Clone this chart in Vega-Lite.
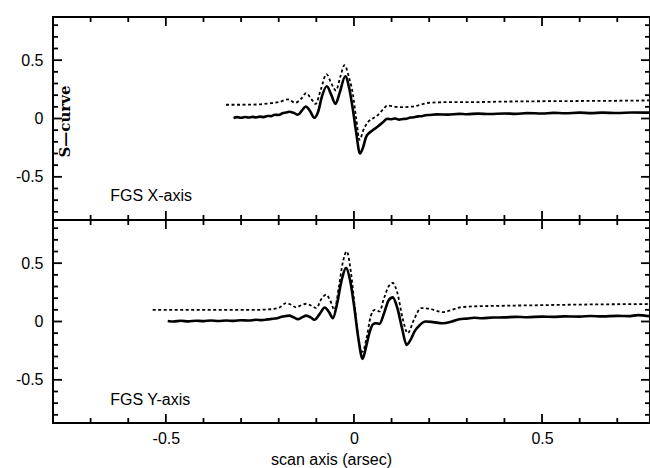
{
  "$schema": "https://vega.github.io/schema/vega-lite/v6.json",
  "background": "white",
  "padding": {"left": 14, "top": 15, "right": 0, "bottom": 0},
  "spacing": 0,
  "bounds": "flush",
  "config": {
    "view": {"stroke": "black", "strokeWidth": 2},
    "axis": {
      "domain": false, "ticks": false,
      "labelFont": "Liberation Sans", "labelFontSize": 16, "labelColor": "black",
      "titleFont": "Liberation Sans", "titleFontSize": 16, "titleFontWeight": "normal", "titleColor": "black",
      "grid": false, "labelOverlap": false, "labelFlush": false
    },
    "rule": {"color": "black", "strokeWidth": 1.8, "opacity": 1}
  },
  "datasets": {
    "ticksX": [
      {"v": -0.7, "m": 0}, {"v": -0.6, "m": 0}, {"v": -0.5, "m": 1}, {"v": -0.4, "m": 0}, {"v": -0.3, "m": 0},
      {"v": -0.2, "m": 0}, {"v": -0.1, "m": 0}, {"v": 0, "m": 1}, {"v": 0.1, "m": 0}, {"v": 0.2, "m": 0},
      {"v": 0.3, "m": 0}, {"v": 0.4, "m": 0}, {"v": 0.5, "m": 1}, {"v": 0.6, "m": 0}, {"v": 0.7, "m": 0}
    ],
    "ticksY": [
      {"v": -0.8, "m": 0}, {"v": -0.7, "m": 0}, {"v": -0.6, "m": 0}, {"v": -0.5, "m": 1}, {"v": -0.4, "m": 0}, {"v": -0.3, "m": 0},
      {"v": -0.2, "m": 0}, {"v": -0.1, "m": 0}, {"v": 0, "m": 1}, {"v": 0.1, "m": 0}, {"v": 0.2, "m": 0},
      {"v": 0.3, "m": 0}, {"v": 0.4, "m": 0}, {"v": 0.5, "m": 1}, {"v": 0.6, "m": 0}, {"v": 0.7, "m": 0}, {"v": 0.8, "m": 0}
    ],
    "xa": [
      {"s": "a", "x": -0.32, "y": 0.005}, {"s": "a", "x": -0.31, "y": 0.012}, {"s": "a", "x": -0.30, "y": 0.006}, {"s": "a", "x": -0.29, "y": 0.013},
      {"s": "a", "x": -0.28, "y": 0.008}, {"s": "a", "x": -0.27, "y": 0.014}, {"s": "a", "x": -0.26, "y": 0.01}, {"s": "a", "x": -0.25, "y": 0.016},
      {"s": "a", "x": -0.24, "y": 0.012}, {"s": "a", "x": -0.23, "y": 0.022}, {"s": "a", "x": -0.22, "y": 0.02}, {"s": "a", "x": -0.21, "y": 0.032},
      {"s": "a", "x": -0.20, "y": 0.03}, {"s": "a", "x": -0.19, "y": 0.045}, {"s": "a", "x": -0.18, "y": 0.052}, {"s": "a", "x": -0.172, "y": 0.058},
      {"s": "a", "x": -0.16, "y": 0.048}, {"s": "a", "x": -0.149, "y": 0.032}, {"s": "a", "x": -0.138, "y": 0.07}, {"s": "a", "x": -0.128, "y": 0.103},
      {"s": "a", "x": -0.118, "y": 0.07}, {"s": "a", "x": -0.105, "y": 0.006}, {"s": "a", "x": -0.095, "y": 0.06}, {"s": "a", "x": -0.085, "y": 0.19},
      {"s": "a", "x": -0.072, "y": 0.276}, {"s": "a", "x": -0.06, "y": 0.2}, {"s": "a", "x": -0.049, "y": 0.125}, {"s": "a", "x": -0.038, "y": 0.22},
      {"s": "a", "x": -0.023, "y": 0.362}, {"s": "a", "x": -0.012, "y": 0.25}, {"s": "a", "x": -0.003, "y": 0.08}, {"s": "a", "x": 0.006, "y": -0.12},
      {"s": "a", "x": 0.016, "y": -0.3}, {"s": "a", "x": 0.024, "y": -0.25}, {"s": "a", "x": 0.032, "y": -0.16}, {"s": "a", "x": 0.042, "y": -0.12},
      {"s": "a", "x": 0.05, "y": -0.1}, {"s": "a", "x": 0.065, "y": -0.065}, {"s": "a", "x": 0.078, "y": -0.03}, {"s": "a", "x": 0.088, "y": -0.003},
      {"s": "a", "x": 0.1, "y": -0.006}, {"s": "a", "x": 0.11, "y": 0.0}, {"s": "a", "x": 0.12, "y": -0.01}, {"s": "a", "x": 0.13, "y": -0.004},
      {"s": "a", "x": 0.14, "y": -0.002}, {"s": "a", "x": 0.15, "y": 0.008}, {"s": "a", "x": 0.16, "y": 0.01}, {"s": "a", "x": 0.17, "y": 0.018},
      {"s": "a", "x": 0.18, "y": 0.02}, {"s": "a", "x": 0.19, "y": 0.028}, {"s": "a", "x": 0.2, "y": 0.03}, {"s": "a", "x": 0.22, "y": 0.035},
      {"s": "a", "x": 0.25, "y": 0.033}, {"s": "a", "x": 0.28, "y": 0.04}, {"s": "a", "x": 0.3, "y": 0.037}, {"s": "a", "x": 0.33, "y": 0.042},
      {"s": "a", "x": 0.36, "y": 0.038}, {"s": "a", "x": 0.4, "y": 0.043}, {"s": "a", "x": 0.43, "y": 0.04}, {"s": "a", "x": 0.46, "y": 0.046},
      {"s": "a", "x": 0.5, "y": 0.043}, {"s": "a", "x": 0.53, "y": 0.048}, {"s": "a", "x": 0.56, "y": 0.045}, {"s": "a", "x": 0.6, "y": 0.05},
      {"s": "a", "x": 0.63, "y": 0.046}, {"s": "a", "x": 0.66, "y": 0.05}, {"s": "a", "x": 0.7, "y": 0.047}, {"s": "a", "x": 0.74, "y": 0.052},
      {"s": "a", "x": 0.787, "y": 0.05},
      {"s": "b", "x": -0.34, "y": 0.118}, {"s": "b", "x": -0.30, "y": 0.118}, {"s": "b", "x": -0.26, "y": 0.12}, {"s": "b", "x": -0.225, "y": 0.13},
      {"s": "b", "x": -0.20, "y": 0.14}, {"s": "b", "x": -0.176, "y": 0.164}, {"s": "b", "x": -0.156, "y": 0.135}, {"s": "b", "x": -0.14, "y": 0.17},
      {"s": "b", "x": -0.127, "y": 0.218}, {"s": "b", "x": -0.114, "y": 0.17}, {"s": "b", "x": -0.102, "y": 0.125}, {"s": "b", "x": -0.088, "y": 0.25},
      {"s": "b", "x": -0.073, "y": 0.38}, {"s": "b", "x": -0.06, "y": 0.3}, {"s": "b", "x": -0.048, "y": 0.24}, {"s": "b", "x": -0.036, "y": 0.36},
      {"s": "b", "x": -0.025, "y": 0.457}, {"s": "b", "x": -0.013, "y": 0.35}, {"s": "b", "x": -0.003, "y": 0.213}, {"s": "b", "x": 0.006, "y": 0.0},
      {"s": "b", "x": 0.015, "y": -0.184}, {"s": "b", "x": 0.025, "y": -0.1}, {"s": "b", "x": 0.037, "y": -0.032}, {"s": "b", "x": 0.05, "y": 0.0},
      {"s": "b", "x": 0.06, "y": 0.02}, {"s": "b", "x": 0.075, "y": 0.07}, {"s": "b", "x": 0.09, "y": 0.112}, {"s": "b", "x": 0.11, "y": 0.1},
      {"s": "b", "x": 0.13, "y": 0.097}, {"s": "b", "x": 0.16, "y": 0.105}, {"s": "b", "x": 0.2, "y": 0.135}, {"s": "b", "x": 0.25, "y": 0.14},
      {"s": "b", "x": 0.3, "y": 0.14}, {"s": "b", "x": 0.4, "y": 0.145}, {"s": "b", "x": 0.5, "y": 0.148}, {"s": "b", "x": 0.6, "y": 0.15},
      {"s": "b", "x": 0.7, "y": 0.152}, {"s": "b", "x": 0.787, "y": 0.155}
    ],
    "ya": [
      {"s": "a", "x": -0.495, "y": 0.005}, {"s": "a", "x": -0.48, "y": 0.0}, {"s": "a", "x": -0.46, "y": 0.006}, {"s": "a", "x": -0.44, "y": 0.001},
      {"s": "a", "x": -0.42, "y": 0.007}, {"s": "a", "x": -0.40, "y": 0.003}, {"s": "a", "x": -0.38, "y": 0.009}, {"s": "a", "x": -0.36, "y": 0.004},
      {"s": "a", "x": -0.34, "y": 0.008}, {"s": "a", "x": -0.32, "y": 0.005}, {"s": "a", "x": -0.30, "y": 0.011}, {"s": "a", "x": -0.28, "y": 0.008},
      {"s": "a", "x": -0.26, "y": 0.015}, {"s": "a", "x": -0.245, "y": 0.012}, {"s": "a", "x": -0.23, "y": 0.018}, {"s": "a", "x": -0.21, "y": 0.025},
      {"s": "a", "x": -0.198, "y": 0.035}, {"s": "a", "x": -0.185, "y": 0.045}, {"s": "a", "x": -0.172, "y": 0.05}, {"s": "a", "x": -0.16, "y": 0.035},
      {"s": "a", "x": -0.149, "y": 0.02}, {"s": "a", "x": -0.138, "y": 0.035}, {"s": "a", "x": -0.127, "y": 0.05}, {"s": "a", "x": -0.115, "y": 0.035},
      {"s": "a", "x": -0.105, "y": 0.015}, {"s": "a", "x": -0.09, "y": 0.07}, {"s": "a", "x": -0.078, "y": 0.12}, {"s": "a", "x": -0.066, "y": 0.08},
      {"s": "a", "x": -0.056, "y": 0.028}, {"s": "a", "x": -0.045, "y": 0.15}, {"s": "a", "x": -0.033, "y": 0.35}, {"s": "a", "x": -0.021, "y": 0.46},
      {"s": "a", "x": -0.01, "y": 0.35}, {"s": "a", "x": 0.001, "y": 0.12}, {"s": "a", "x": 0.012, "y": -0.15}, {"s": "a", "x": 0.023, "y": -0.32},
      {"s": "a", "x": 0.032, "y": -0.22}, {"s": "a", "x": 0.041, "y": -0.1}, {"s": "a", "x": 0.05, "y": -0.025}, {"s": "a", "x": 0.058, "y": -0.015},
      {"s": "a", "x": 0.068, "y": -0.02}, {"s": "a", "x": 0.08, "y": 0.07}, {"s": "a", "x": 0.092, "y": 0.18}, {"s": "a", "x": 0.103, "y": 0.207},
      {"s": "a", "x": 0.115, "y": 0.12}, {"s": "a", "x": 0.128, "y": -0.06}, {"s": "a", "x": 0.14, "y": -0.2}, {"s": "a", "x": 0.15, "y": -0.16},
      {"s": "a", "x": 0.162, "y": -0.08}, {"s": "a", "x": 0.174, "y": -0.034}, {"s": "a", "x": 0.19, "y": 0.0}, {"s": "a", "x": 0.21, "y": -0.005},
      {"s": "a", "x": 0.236, "y": -0.015}, {"s": "a", "x": 0.26, "y": 0.0}, {"s": "a", "x": 0.28, "y": 0.02}, {"s": "a", "x": 0.30, "y": 0.025},
      {"s": "a", "x": 0.32, "y": 0.032}, {"s": "a", "x": 0.34, "y": 0.028}, {"s": "a", "x": 0.37, "y": 0.034}, {"s": "a", "x": 0.4, "y": 0.035},
      {"s": "a", "x": 0.43, "y": 0.04}, {"s": "a", "x": 0.46, "y": 0.037}, {"s": "a", "x": 0.5, "y": 0.042}, {"s": "a", "x": 0.53, "y": 0.04},
      {"s": "a", "x": 0.56, "y": 0.044}, {"s": "a", "x": 0.6, "y": 0.042}, {"s": "a", "x": 0.63, "y": 0.047}, {"s": "a", "x": 0.66, "y": 0.044},
      {"s": "a", "x": 0.7, "y": 0.048}, {"s": "a", "x": 0.73, "y": 0.046}, {"s": "a", "x": 0.755, "y": 0.055}, {"s": "a", "x": 0.787, "y": 0.045},
      {"s": "b", "x": -0.535, "y": 0.1}, {"s": "b", "x": -0.45, "y": 0.1}, {"s": "b", "x": -0.35, "y": 0.1}, {"s": "b", "x": -0.26, "y": 0.1},
      {"s": "b", "x": -0.22, "y": 0.105}, {"s": "b", "x": -0.198, "y": 0.12}, {"s": "b", "x": -0.18, "y": 0.158}, {"s": "b", "x": -0.165, "y": 0.14},
      {"s": "b", "x": -0.154, "y": 0.121}, {"s": "b", "x": -0.14, "y": 0.14}, {"s": "b", "x": -0.127, "y": 0.152}, {"s": "b", "x": -0.113, "y": 0.135},
      {"s": "b", "x": -0.1, "y": 0.115}, {"s": "b", "x": -0.087, "y": 0.19}, {"s": "b", "x": -0.074, "y": 0.23}, {"s": "b", "x": -0.063, "y": 0.18},
      {"s": "b", "x": -0.052, "y": 0.1}, {"s": "b", "x": -0.04, "y": 0.3}, {"s": "b", "x": -0.03, "y": 0.5}, {"s": "b", "x": -0.019, "y": 0.6},
      {"s": "b", "x": -0.008, "y": 0.42}, {"s": "b", "x": 0.003, "y": 0.1}, {"s": "b", "x": 0.013, "y": -0.17}, {"s": "b", "x": 0.023, "y": -0.26},
      {"s": "b", "x": 0.033, "y": -0.15}, {"s": "b", "x": 0.045, "y": 0.05}, {"s": "b", "x": 0.055, "y": 0.1}, {"s": "b", "x": 0.068, "y": 0.086},
      {"s": "b", "x": 0.08, "y": 0.2}, {"s": "b", "x": 0.092, "y": 0.3}, {"s": "b", "x": 0.103, "y": 0.33}, {"s": "b", "x": 0.115, "y": 0.25},
      {"s": "b", "x": 0.13, "y": 0.02}, {"s": "b", "x": 0.143, "y": -0.1}, {"s": "b", "x": 0.16, "y": 0.02}, {"s": "b", "x": 0.179, "y": 0.115},
      {"s": "b", "x": 0.2, "y": 0.11}, {"s": "b", "x": 0.236, "y": 0.08}, {"s": "b", "x": 0.26, "y": 0.1}, {"s": "b", "x": 0.28, "y": 0.12},
      {"s": "b", "x": 0.32, "y": 0.13}, {"s": "b", "x": 0.4, "y": 0.135}, {"s": "b", "x": 0.5, "y": 0.14}, {"s": "b", "x": 0.6, "y": 0.145},
      {"s": "b", "x": 0.7, "y": 0.148}, {"s": "b", "x": 0.787, "y": 0.15}
    ],
    "labels": [
      {"p": "X", "x": -0.648, "y": -0.66, "t": "FGS X-axis"},
      {"p": "Y", "x": -0.648, "y": -0.67, "t": "FGS Y-axis"}
    ]
  },
  "vconcat": [
    {
      "width": 597, "height": 203,
      "resolve": {"axis": {"x": "independent", "y": "independent"}},
      "layer": [
        {
          "data": {"name": "xa"},
          "transform": [{"filter": "datum.s == 'a'"}],
          "mark": {"type": "line", "color": "black", "strokeWidth": 2.6, "interpolate": "monotone", "clip": true},
          "encoding": {
            "x": {"field": "x", "type": "quantitative", "scale": {"domain": [-0.8, 0.787], "nice": false, "zero": false}, "axis": null},
            "y": {"field": "y", "type": "quantitative", "scale": {"domain": [-0.87, 0.87], "nice": false, "zero": false},
              "axis": {"orient": "left", "values": [-0.5, 0, 0.5],
                "labelExpr": "(datum.value < 0 ? '-' : '') + format(abs(datum.value), '.1~f')",
                "labelPadding": 10,
                "title": "S—curve", "titleFont": "DejaVu Serif", "titleFontWeight": "bold", "titleFontSize": 15,
                "titleAngle": -90, "titleX": 16, "titleY": 104, "titleBaseline": "alphabetic", "titleAlign": "center"}}
          }
        },
        {
          "data": {"name": "xa"},
          "transform": [{"filter": "datum.s == 'b'"}],
          "mark": {"type": "line", "color": "black", "strokeWidth": 1.8, "strokeDash": [3, 2.5], "interpolate": "monotone", "clip": true},
          "encoding": {
            "x": {"field": "x", "type": "quantitative", "axis": null},
            "y": {"field": "y", "type": "quantitative", "axis": null}
          }
        },
        {
          "data": {"name": "labels"},
          "transform": [{"filter": "datum.p == 'X'"}],
          "mark": {"type": "text", "align": "left", "baseline": "middle", "font": "Liberation Sans", "fontSize": 16, "color": "black"},
          "encoding": {
            "x": {"field": "x", "type": "quantitative", "axis": null},
            "y": {"field": "y", "type": "quantitative", "axis": null},
            "text": {"field": "t"}
          }
        },
        {"data": {"name": "ticksX"}, "transform": [{"filter": "datum.m == 1"}], "mark": {"type": "rule"},
          "encoding": {"x": {"field": "v", "type": "quantitative", "axis": null}, "y": {"datum": -0.87, "type": "quantitative", "axis": null}, "y2": {"datum": -0.793}}},
        {"data": {"name": "ticksX"}, "transform": [{"filter": "datum.m == 0"}], "mark": {"type": "rule"},
          "encoding": {"x": {"field": "v", "type": "quantitative", "axis": null}, "y": {"datum": -0.87, "type": "quantitative", "axis": null}, "y2": {"datum": -0.827}}},
        {"data": {"name": "ticksX"}, "transform": [{"filter": "datum.m == 1"}], "mark": {"type": "rule"},
          "encoding": {"x": {"field": "v", "type": "quantitative", "axis": null}, "y": {"datum": 0.87, "type": "quantitative", "axis": null}, "y2": {"datum": 0.793}}},
        {"data": {"name": "ticksX"}, "transform": [{"filter": "datum.m == 0"}], "mark": {"type": "rule"},
          "encoding": {"x": {"field": "v", "type": "quantitative", "axis": null}, "y": {"datum": 0.87, "type": "quantitative", "axis": null}, "y2": {"datum": 0.827}}},
        {"data": {"name": "ticksY"}, "transform": [{"filter": "datum.m == 1"}], "mark": {"type": "rule"},
          "encoding": {"y": {"field": "v", "type": "quantitative", "axis": null}, "x": {"datum": -0.8, "type": "quantitative", "axis": null}, "x2": {"datum": -0.776}}},
        {"data": {"name": "ticksY"}, "transform": [{"filter": "datum.m == 0"}], "mark": {"type": "rule"},
          "encoding": {"y": {"field": "v", "type": "quantitative", "axis": null}, "x": {"datum": -0.8, "type": "quantitative", "axis": null}, "x2": {"datum": -0.7867}}},
        {"data": {"name": "ticksY"}, "transform": [{"filter": "datum.m == 1"}], "mark": {"type": "rule"},
          "encoding": {"y": {"field": "v", "type": "quantitative", "axis": null}, "x": {"datum": 0.787, "type": "quantitative", "axis": null}, "x2": {"datum": 0.763}}},
        {"data": {"name": "ticksY"}, "transform": [{"filter": "datum.m == 0"}], "mark": {"type": "rule"},
          "encoding": {"y": {"field": "v", "type": "quantitative", "axis": null}, "x": {"datum": 0.787, "type": "quantitative", "axis": null}, "x2": {"datum": 0.7737}}}
      ]
    },
    {
      "width": 597, "height": 203,
      "resolve": {"axis": {"x": "independent", "y": "independent"}},
      "layer": [
        {
          "data": {"name": "ya"},
          "transform": [{"filter": "datum.s == 'a'"}],
          "mark": {"type": "line", "color": "black", "strokeWidth": 2.6, "interpolate": "monotone", "clip": true},
          "encoding": {
            "x": {"field": "x", "type": "quantitative", "scale": {"domain": [-0.8, 0.787], "nice": false, "zero": false},
              "axis": {"orient": "bottom", "title": "scan axis (arsec)", "titleX": 278, "titlePadding": 5, "values": [-0.5, 0, 0.5],
                "labelExpr": "(datum.value < 0 ? '-' : '') + format(abs(datum.value), '.1~f')",
                "labelPadding": 7}},
            "y": {"field": "y", "type": "quantitative", "scale": {"domain": [-0.87, 0.87], "nice": false, "zero": false},
              "axis": {"orient": "left", "title": null, "values": [-0.5, 0, 0.5],
                "labelExpr": "(datum.value < 0 ? '-' : '') + format(abs(datum.value), '.1~f')",
                "labelPadding": 10}}
          }
        },
        {
          "data": {"name": "ya"},
          "transform": [{"filter": "datum.s == 'b'"}],
          "mark": {"type": "line", "color": "black", "strokeWidth": 1.8, "strokeDash": [3, 2.5], "interpolate": "monotone", "clip": true},
          "encoding": {
            "x": {"field": "x", "type": "quantitative", "axis": null},
            "y": {"field": "y", "type": "quantitative", "axis": null}
          }
        },
        {
          "data": {"name": "labels"},
          "transform": [{"filter": "datum.p == 'Y'"}],
          "mark": {"type": "text", "align": "left", "baseline": "middle", "font": "Liberation Sans", "fontSize": 16, "color": "black"},
          "encoding": {
            "x": {"field": "x", "type": "quantitative", "axis": null},
            "y": {"field": "y", "type": "quantitative", "axis": null},
            "text": {"field": "t"}
          }
        },
        {"data": {"name": "ticksX"}, "transform": [{"filter": "datum.m == 1"}], "mark": {"type": "rule"},
          "encoding": {"x": {"field": "v", "type": "quantitative", "axis": null}, "y": {"datum": -0.87, "type": "quantitative", "axis": null}, "y2": {"datum": -0.793}}},
        {"data": {"name": "ticksX"}, "transform": [{"filter": "datum.m == 0"}], "mark": {"type": "rule"},
          "encoding": {"x": {"field": "v", "type": "quantitative", "axis": null}, "y": {"datum": -0.87, "type": "quantitative", "axis": null}, "y2": {"datum": -0.827}}},
        {"data": {"name": "ticksX"}, "transform": [{"filter": "datum.m == 1"}], "mark": {"type": "rule"},
          "encoding": {"x": {"field": "v", "type": "quantitative", "axis": null}, "y": {"datum": 0.87, "type": "quantitative", "axis": null}, "y2": {"datum": 0.793}}},
        {"data": {"name": "ticksX"}, "transform": [{"filter": "datum.m == 0"}], "mark": {"type": "rule"},
          "encoding": {"x": {"field": "v", "type": "quantitative", "axis": null}, "y": {"datum": 0.87, "type": "quantitative", "axis": null}, "y2": {"datum": 0.827}}},
        {"data": {"name": "ticksY"}, "transform": [{"filter": "datum.m == 1"}], "mark": {"type": "rule"},
          "encoding": {"y": {"field": "v", "type": "quantitative", "axis": null}, "x": {"datum": -0.8, "type": "quantitative", "axis": null}, "x2": {"datum": -0.776}}},
        {"data": {"name": "ticksY"}, "transform": [{"filter": "datum.m == 0"}], "mark": {"type": "rule"},
          "encoding": {"y": {"field": "v", "type": "quantitative", "axis": null}, "x": {"datum": -0.8, "type": "quantitative", "axis": null}, "x2": {"datum": -0.7867}}},
        {"data": {"name": "ticksY"}, "transform": [{"filter": "datum.m == 1"}], "mark": {"type": "rule"},
          "encoding": {"y": {"field": "v", "type": "quantitative", "axis": null}, "x": {"datum": 0.787, "type": "quantitative", "axis": null}, "x2": {"datum": 0.763}}},
        {"data": {"name": "ticksY"}, "transform": [{"filter": "datum.m == 0"}], "mark": {"type": "rule"},
          "encoding": {"y": {"field": "v", "type": "quantitative", "axis": null}, "x": {"datum": 0.787, "type": "quantitative", "axis": null}, "x2": {"datum": 0.7737}}}
      ]
    }
  ]
}
